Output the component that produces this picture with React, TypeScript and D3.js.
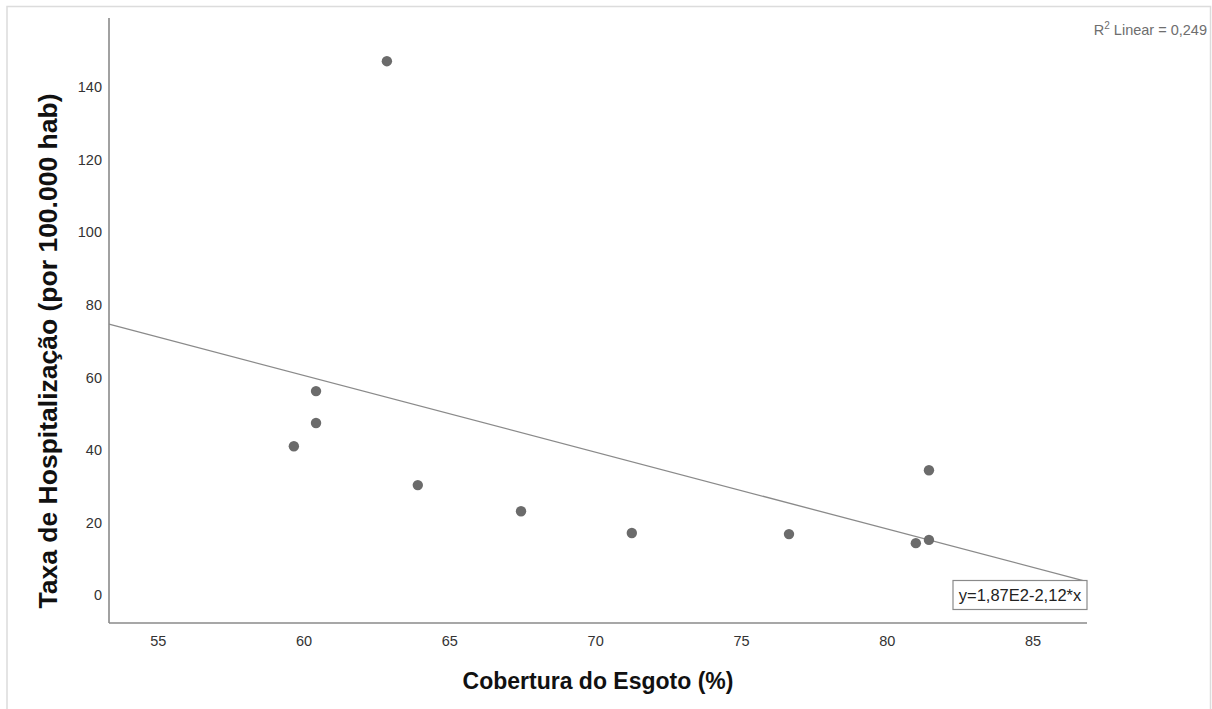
import React from "react";
import * as d3 from "d3";

// Data
const coberturaEsgoto = [62.84, 60.41, 60.41, 59.65, 63.9, 67.44, 71.24, 76.63, 80.98, 81.43, 81.43];
const taxaHospitalizacao = [147.1, 56.2, 47.4, 41.0, 30.3, 23.1, 17.1, 16.8, 14.3, 15.2, 34.4];
const xTicks = [55, 60, 65, 70, 75, 80, 85];
const yTicks = [0, 20, 40, 60, 80, 100, 120, 140];
const fitIntercept = 187.4;
const fitSlope = -2.115;
const equationLabel = "y=1,87E2-2,12*x";
const r2Label = "0,249";

const W = 1212;
const H = 709;
const FONT = "'Liberation Sans', Arial, Helvetica, sans-serif";

export default function App() {
  const x = d3.scaleLinear().domain([53.31, 86.85]).range([109, 1087]);
  const y = d3.scaleLinear().domain([-7.7, 159]).range([623, 18]);
  const [x0, x1] = x.domain();
  const line = d3
    .line<number>()
    .x((d) => x(d))
    .y((d) => y(fitIntercept + fitSlope * d));

  return (
    <svg
      width={W}
      height={H}
      style={{ position: "fixed", left: 0, top: 0, background: "#fff" }}
      fontFamily={FONT}
    >
      {/* outer frame */}
      <rect x={7} y={6.5} width={1203.5} height={720} fill="none" stroke="#dcdcdc" strokeWidth={1.5} />

      {/* regression line */}
      <path d={line([x0, x1]) || ""} fill="none" stroke="#8a8a8a" strokeWidth={1.3} />

      {/* points */}
      {coberturaEsgoto.map((cx, i) => (
        <circle key={i} cx={x(cx)} cy={y(taxaHospitalizacao[i])} r={5.2} fill="#6b6b6b" />
      ))}

      {/* axes */}
      <line x1={109} y1={18} x2={109} y2={623} stroke="#8a8a8a" strokeWidth={1.6} />
      <line x1={109} y1={623} x2={1087} y2={623} stroke="#8a8a8a" strokeWidth={1.6} />

      {/* y tick labels */}
      {yTicks.map((t) => (
        <text key={t} x={102} y={y(t)} dy="0.36em" textAnchor="end" fontSize={14.5} fill="#333">
          {t}
        </text>
      ))}
      {/* x tick labels */}
      {xTicks.map((t) => (
        <text key={t} x={x(t)} y={646} textAnchor="middle" fontSize={14.5} fill="#333">
          {t}
        </text>
      ))}

      {/* axis titles */}
      <text
        transform={`translate(57, 351) rotate(-90)`}
        textAnchor="middle"
        fontSize={26.5}
        fontWeight="bold"
        fill="#111"
      >
        Taxa de Hospitalização (por 100.000 hab)
      </text>
      <text x={598} y={689} textAnchor="middle" fontSize={23} fontWeight="bold" fill="#111">
        Cobertura do Esgoto (%)
      </text>

      {/* R2 label */}
      <text x={1207} y={35} textAnchor="end" fontSize={14.5} fill="#6e6e6e">
        R<tspan dy={-6} fontSize={10}>2</tspan>
        <tspan dy={6}> Linear = {r2Label}</tspan>
      </text>

      {/* equation box */}
      <rect x={953} y={580.5} width={134} height={29} fill="#fff" stroke="#8a8a8a" strokeWidth={1.2} />
      <text x={1020} y={601} textAnchor="middle" fontSize={16.5} fill="#222">
        {equationLabel}
      </text>
    </svg>
  );
}
